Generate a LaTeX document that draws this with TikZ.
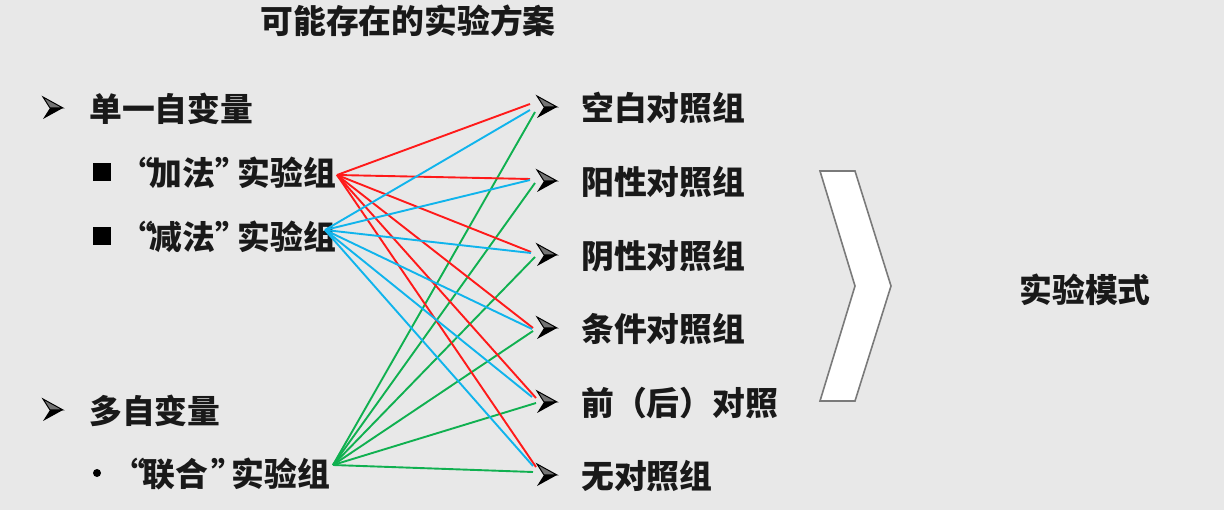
\documentclass[tikz,border=0pt]{standalone}
\usepackage{fontspec}
\newfontfamily\cjk{Noto Sans CJK SC}
\begin{document}
\begin{tikzpicture}[x=1pt,y=-1pt,
  txt/.style={font=\cjk\bfseries\fontsize{32.8}{38}\selectfont, inner sep=0pt, text=black!90},
  quo/.style={txt, execute at begin node=\vphantom{加}},
  lnk/.style={line width=1.9pt},
  rl/.style={lnk, draw=linkred},
  bl/.style={lnk, draw=linkblue},
  gl/.style={lnk, draw=linkgreen},
  arrowbullet/.pic={
    \fill[black] (0,0) -- (-20,11) -- (-13,0) -- cycle;
    \draw[black, line width=1pt, line join=miter, fill=black!55] (0,0) -- (-20,-11) -- (-13,0) -- cycle;
  }
]
\definecolor{bg}{HTML}{E8E8E8}
\definecolor{linkred}{HTML}{FF1A1A}
\definecolor{linkblue}{HTML}{10B4EC}
\definecolor{linkgreen}{HTML}{10B050}
\definecolor{chev}{HTML}{7A7A7A}
\fill[bg] (0,0) rectangle (1224,510);
\useasboundingbox (0,0) rectangle (1224,510);

% title
\node[txt] (title) at (408,21) {可能存在的实验方案};

% left list
\pic (la1) at (63,108) {arrowbullet};
\node[txt, anchor=west] (single) at (89,109) {单一自变量};

\node[fill=black, minimum size=18pt, inner sep=0pt] (sq1) at (102,172) {};
\node[quo] (addq1) at (137,173) {“};
\node[txt] (add) at (182,173) {加法};
\node[quo] (addq2) at (232,173) {”};
\node[txt, anchor=east] (addg) at (336,173) {实验组};

\node[fill=black, minimum size=18pt, inner sep=0pt] (sq2) at (102,236) {};
\node[quo] (subq1) at (137,237) {“};
\node[txt] (sub) at (182,237) {减法};
\node[quo] (subq2) at (232,237) {”};
\node[txt, anchor=east] (subg) at (336,237) {实验组};

\pic (la2) at (63,410) {arrowbullet};
\node[txt, anchor=west] (multi) at (89,411) {多自变量};

\node[circle, fill=black, minimum size=8pt, inner sep=0pt] (dot) at (97,473) {};
\node[quo] (jq1) at (129,474) {“};
\node[txt] (joint) at (175,474) {联合};
\node[quo] (jq2) at (228,474) {”};
\node[txt, anchor=east] (jg) at (330,474) {实验组};

% right list
\foreach \i/\y/\t in {1/107/空白对照组, 2/181/阳性对照组, 3/255/阴性对照组, 4/328/条件对照组, 5/402/前（后）对照, 6/475/无对照组}{
  \pic (ra\i) at (557,\y) {arrowbullet};
  \node[txt, anchor=west] (c\i) at (581,\y+1) {\t};
}

% sources
\coordinate (rs) at (337,175);
\coordinate (bs) at (325,230);
\coordinate (gs) at (333,465);
% targets
\coordinate (r1) at (530,104); \coordinate (b1) at (530,110); \coordinate (g1) at (535,112);
\coordinate (r2) at (530,179); \coordinate (b2) at (530,180); \coordinate (g2) at (535,183);
\coordinate (r3) at (531,252); \coordinate (b3) at (531,253); \coordinate (g3) at (535,257);
\coordinate (r4) at (533,328); \coordinate (b4) at (532,329); \coordinate (g4) at (533,331);
\coordinate (r5) at (536,398); \coordinate (b5) at (532,397); \coordinate (g5) at (536,403);
\coordinate (r6) at (536,467); \coordinate (b6) at (533,466); \coordinate (g6) at (533,472);

\foreach \k in {1,...,6}{ \draw[gl] (gs) -- (g\k); }
\foreach \k in {1,...,6}{ \draw[rl] (rs) -- (r\k); }
\foreach \k in {1,...,6}{ \draw[bl] (bs) -- (b\k); }

% chevron
\draw[chev, line width=1.6pt, fill=white, line join=miter]
  (820,171) -- (855,171) -- (891,286) -- (855,401) -- (820,401) -- (855,286) -- cycle;

\node[txt] (mode) at (1085,290) {实验模式};
\end{tikzpicture}
\end{document}
